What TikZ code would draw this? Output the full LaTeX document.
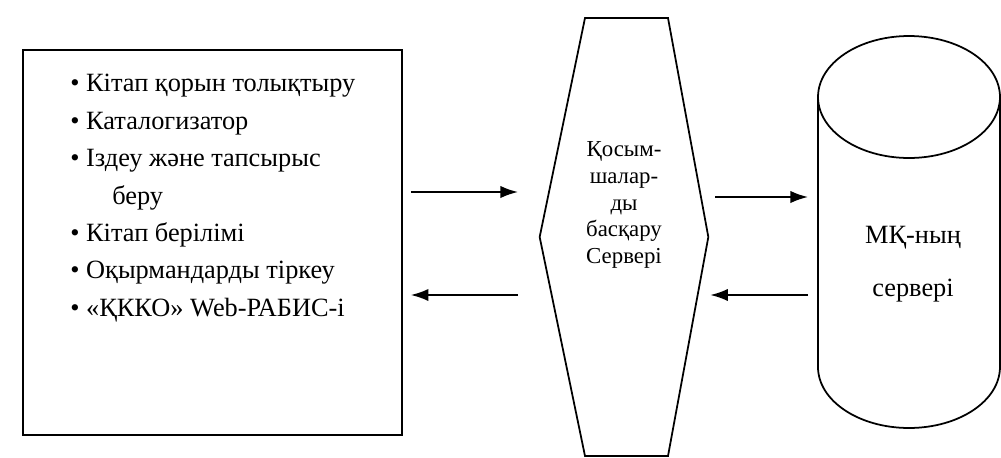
\documentclass[tikz,border=0pt]{standalone}
\usepackage{fontspec}
\setmainfont{Liberation Serif}
\usetikzlibrary{positioning,arrows.meta}
\tikzset{
    block/.style={%
        draw, line width=1pt,
        minimum width=#1,
        minimum height=7.7cm,
        inner sep=0pt
    },
    block/.default=7.58cm,
    outline/.style={draw, line width=1pt},
    flow/.style={-{Latex[length=10pt,width=7pt]}, line width=1pt},
    >=LaTeX
}

\begin{document}
\begin{tikzpicture}[x=0.02cm, y=-0.02cm]
    \useasboundingbox (0,0) rectangle (1001,457);
    % clients
    \node[block] (B1) at (212.5,242.5) {};
    \node[anchor=north west, align=left, inner sep=0pt,
          font=\fontsize{15}{21.3}\selectfont] (L1) at (70,74)
        {\textbullet\ Кітап қорын толықтыру\\
         \textbullet\ Каталогизатор\\
         \textbullet\ Іздеу және тапсырыс\\
         \hspace*{0.84cm}беру\\
         \textbullet\ Кітап берілімі\\
         \textbullet\ Оқырмандарды тіркеу\\
         \textbullet\ «ҚККО» Web-РАБИС-і};
    % application server
    \node[minimum width=3.36cm, minimum height=8.76cm, inner sep=0pt] (H1) at (624,237) {};
    \draw[outline] (585,18) -- (668,18) -- (H1.east) -- (668,456) -- (585,456) -- (H1.west) -- cycle;
    \node[align=center, font=\fontsize{13}{15.3}\selectfont] (T1) at (624,205)
        {Қосым-\\шалар-\\ды\\басқару\\Сервері};
    % database
    \node[minimum width=3.64cm, minimum height=7.8cm, inner sep=0pt] (C1) at (909,232) {};
    \draw[outline] (909,97) ellipse (1.82cm and 1.22cm);
    \draw[outline] (818,97) -- (818,367) arc (180:360:1.82cm and 1.22cm) -- (1000,97);
    \node[align=center, font=\fontsize{15}{30}\selectfont] (M1) at (913,264)
        {МҚ-ның\\сервері};
    % requests
    \coordinate (a1) at (518,192);
    \coordinate (a2) at (518,295);
    \coordinate (a3) at (808,197);
    \coordinate (a4) at (808,295);
    \draw[flow, shorten <=0.16cm] (B1.east |- a1) -- (a1);
    \draw[flow, shorten >=0.16cm] (a2) -- (B1.east |- a2);
    \draw[flow, shorten <=0.14cm] (H1.east |- a3) -- (a3);
    \draw[flow, shorten >=0.04cm] (a4) -- (H1.east |- a4);
\end{tikzpicture}
\end{document}
